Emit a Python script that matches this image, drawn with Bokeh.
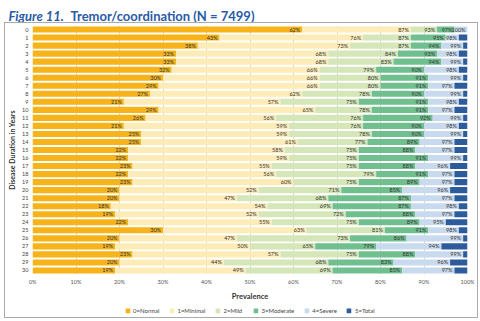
from bokeh.plotting import figure
from bokeh.layouts import column
from bokeh.models import (ColumnDataSource, FactorRange, Label, Legend, LegendItem,
                          FixedTicker, CustomJSTickFormatter)
from bokeh.core.properties import value
from bokeh.embed import file_html
from bokeh.resources import INLINE

years = [str(i) for i in range(31)]
# cumulative percentages, as labelled in the chart
cum_normal = [62, 43, 38, 33, 33, 32, 30, 29, 27, 21, 29, 26, 21, 25, 25, 22, 22, 23, 22, 23,
              20, 20, 18, 19, 22, 30, 20, 19, 23, 20, 19]
cum_minimal = [87, 76, 73, 68, 68, 66, 66, 66, 62, 57, 65, 56, 59, 59, 61, 58, 59, 55, 56, 60,
               52, 47, 54, 52, 55, 63, 47, 50, 57, 44, 49]
cum_mild = [93, 87, 87, 84, 83, 79, 80, 80, 78, 75, 78, 76, 76, 78, 77, 75, 75, 75, 79, 75,
            71, 68, 69, 72, 75, 81, 73, 65, 75, 68, 69]
cum_moderate = [97, 95, 94, 93, 94, 90, 91, 91, 90, 91, 91, 92, 90, 90, 89, 88, 91, 88, 91, 89,
                85, 87, 87, 88, 89, 91, 86, 79, 88, 83, 85]
cum_severe = [100, 98, 99, 98, 99, 98, 99, 97, 99, 98, 97, 99, 98, 99, 97, 97, 99, 96, 97, 97,
              96, 97, 98, 97, 95, 98, 99, 94, 99, 96, 97]
cum_total = [100] * 31

categories = ["0=Normal", "1=Minimal", "2=Mild", "3=Moderate", "4=Severe", "5=Total"]
colors = ["#F6B41A", "#FDEBB8", "#D5E6B8", "#6FBF8F", "#C9DAEE", "#2D5B9B"]
x_ticks = [0, 10, 20, 30, 40, 50, 60, 70, 80, 90, 100]
title_a = "Figure 11."
title_b = "Tremor/coordination (N = 7499)"

cums = [cum_normal, cum_minimal, cum_mild, cum_moderate, cum_severe, cum_total]

# ---- title strip ----
tfig = figure(width=480, height=22, output_backend="svg", toolbar_location=None,
              x_range=(0, 480), y_range=(0, 22), x_axis_location=None, y_axis_location=None,
              min_border=0, outline_line_color=None)
tfig.grid.visible = False
tfig.add_layout(Label(x=8, y=7, text=title_a, text_font="Lato", text_font_style="bold italic",
                      text_font_size="13px", text_baseline="middle", text_color="#2A5BA6"))
tfig.add_layout(Label(x=70, y=7, text=title_b, text_font="Lato", text_font_style="bold",
                      text_font_size="13px", text_baseline="middle", text_color="#2A5BA6"))

# ---- main chart ----
p = figure(width=472, height=280, output_backend="svg", toolbar_location=None,
           y_range=FactorRange(factors=years[::-1]), x_range=(0, 100),
           min_border_left=25, min_border_right=10, min_border_top=2, min_border_bottom=25)

prev = [0] * 31
for name, col, cum in zip(categories, colors, cums):
    src = ColumnDataSource(dict(y=years, left=prev, right=cum))
    p.hbar(y="y", left="left", right="right", height=0.76, source=src,
           fill_color=col, line_color=None)
    prev = cum

# segment-end labels (cumulative)
lx, ly, lt = [], [], []
for cum in cums[:5]:
    for yv, c in zip(years, cum):
        lx.append(c)
        ly.append(yv)
        lt.append(f"{c}%")
lsrc = ColumnDataSource(dict(x=lx, y=ly, t=lt))
p.text(x="x", y="y", text="t", source=lsrc, text_align="right", text_baseline="middle",
       x_offset=-2, text_font_size="5.5px", text_color="#333333", text_font=value("Lato"))

p.xgrid.ticker = FixedTicker(ticks=x_ticks)
p.xgrid.grid_line_color = "#d9d9d9"
p.xgrid.level = "underlay"
p.ygrid.grid_line_color = None
p.outline_line_color = None

for ax in (p.xaxis, p.yaxis):
    ax.axis_line_color = None
    ax.major_tick_line_color = None
    ax.minor_tick_line_color = None
    ax.major_tick_out = 0
    ax.major_tick_in = 0
    ax.minor_tick_out = 0
    ax.minor_tick_in = 0
    ax.major_label_text_font_size = "5.5px"
    ax.major_label_text_font = "Lato"
    ax.axis_label_text_font = "Lato"
    ax.axis_label_text_font_style = "bold"
    ax.axis_label_text_color = "#333333"

p.xaxis.ticker = FixedTicker(ticks=x_ticks)
p.xaxis.formatter = CustomJSTickFormatter(code="return tick + '%';")
p.xaxis.major_label_text_color = "#555555"
p.xaxis.major_label_standoff = 4
p.xaxis.axis_label = "Prevalence"
p.xaxis.axis_label_text_font_size = "7.5px"
p.xaxis.axis_label_standoff = 4

p.yaxis.major_label_text_color = "#444444"
p.yaxis.major_label_standoff = 4
p.yaxis.axis_label = "Disease Duration in Years"
p.yaxis.axis_label_text_font_size = "7px"
p.yaxis.axis_label_standoff = 3

# ---- legend strip (proxy glyphs, hidden, one row per category) ----
lfig = figure(width=472, height=14, output_backend="svg", toolbar_location=None,
              y_range=FactorRange(factors=categories), x_range=(0, 1),
              x_axis_location=None, y_axis_location=None,
              min_border=0, outline_line_color=None)
lfig.grid.visible = False
items = []
for name, col in zip(categories, colors):
    r = lfig.hbar(y="y", left="v", right="v", height=0.5,
                  source=ColumnDataSource(dict(y=[name], v=[0])),
                  fill_color=col, line_color=None)
    items.append(LegendItem(label=name, renderers=[r]))
legend = Legend(items=items, orientation="horizontal", location="center",
                glyph_width=6, glyph_height=6, label_text_font_size="6px",
                label_text_font="Lato", label_text_color="#444444", label_standoff=3,
                label_height=6, spacing=9, padding=0, margin=0, border_line_color=None,
                background_fill_alpha=0)
lfig.add_layout(legend)

inner = column(p, lfig, margin=(0, 0, 0, 4), styles={"border": "1px solid #aaaaaa"})
layout = column(tfig, inner)

open("out.html", "w").write(file_html(layout, INLINE))
